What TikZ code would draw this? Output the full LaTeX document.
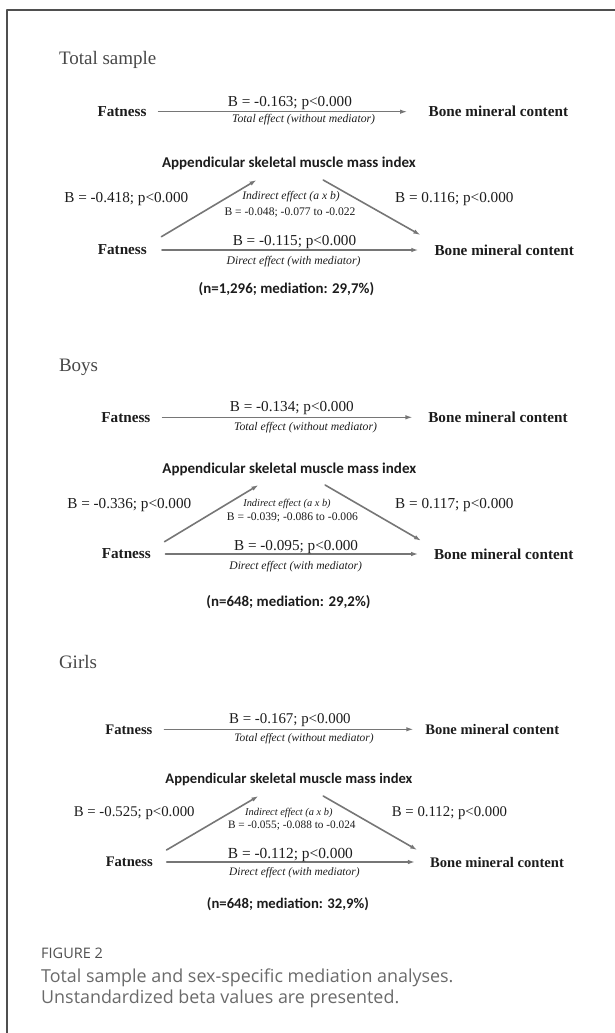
\documentclass[tikz,border=0pt]{standalone}
\usepackage{fontspec}
\setmainfont{Liberation Serif}
\newfontfamily\medfont{Carlito}
\newfontfamily\capfont{Open Sans}
\usetikzlibrary{arrows.meta}
\definecolor{fig-ink}{HTML}{1C1C1C}
\definecolor{fig-title}{HTML}{474747}
\definecolor{fig-line}{HTML}{767676}
\definecolor{fig-frame}{HTML}{4F4F4F}
\definecolor{fig-cap}{HTML}{6A6A6A}
\newcommand\fsz[1]{\fontsize{#1}{#1}\selectfont}

\begin{document}
\begin{tikzpicture}[x=1pt, y=-1pt, line cap=round, line join=round,
    secttitle/.style={anchor=base west, inner sep=0pt, text=fig-title, font=\fsz{19}},
    var/.style={inner sep=0pt, text=fig-ink, font=\bfseries\fsz{#1}}, var/.default=15.2,
    coef/.style={anchor=base, inner sep=0pt, text=fig-ink, font=\fsz{#1}}, coef/.default=15.2,
    note/.style={anchor=base, inner sep=0pt, text=fig-ink, font=\itshape\fsz{#1}}, note/.default=11.7,
    med/.style={anchor=base, inner sep=0pt, text=fig-ink, font=\medfont\bfseries\fsz{#1}}, med/.default=15,
    eff/.style={draw=fig-line, line width=1.2pt, -{Latex[length=7pt,width=4.5pt]}},
    effb/.style={eff, line width=1.6pt}]
  \useasboundingbox (0,0) rectangle (614,1033);
  % ramme
  \draw[fig-frame, line width=1.6pt, line cap=butt] (7,1040) -- (7,10) -- (620,10);

  % total sample
  \node[secttitle] (ttitle) at (58.8,65) {Total sample};
  \node[var] (tfat1) at (122,111.7) {Fatness};
  \node[var] (tbmc1) at (498.4,111.7) {Bone mineral content};
  \draw[eff, shorten <=11.7pt, shorten >=21.5pt] (tfat1.east) -- (tbmc1.west);
  \node[coef] (tb1) at (289.9,106) {B = -0.163; p<0.000};
  \node[note] (tnote1) at (303.6,122) {Total effect (without mediator)};
  \node[med] (tmed) at (288.9,167) {Appendicular skeletal muscle mass index};
  \node[coef] (tla) at (126.3,202) {B = -0.418; p<0.000};
  \node[note=11.6] (tind1) at (291,199) {Indirect effect (a x b)};
  \node[coef=11.6] (tind2) at (290,215) {B = -0.048; -0.077 to -0.022};
  \node[coef] (trb) at (454.3,202) {B = 0.116; p<0.000};
  \node[var] (tfat2) at (122.3,250) {Fatness};
  \node[var] (tbmc2) at (504.2,250) {Bone mineral content};
  \coordinate (ta0) at (161.4,236.7); \coordinate (ta1) at (256.6,180);
  \coordinate (tb0) at (323.2,180); \coordinate (tb1) at (420.4,235);
  \draw[effb] (ta0) -- (ta1);
  \draw[effb] (tb0) -- (tb1);
  \draw[effb, shorten <=15pt, shorten >=16pt] (tfat2.east) -- (tbmc2.west);
  \node[coef] (tdb) at (294.5,245) {B = -0.115; p<0.000};
  \node[note] (tdnote) at (293.6,264) {Direct effect (with mediator)};
  \node[med=14.9] (tn) at (286.4,293) {(n=1,296; mediation: 29,7\%)};

  % boys
  \node[secttitle] (btitle) at (58.8,371) {Boys};
  \node[var] (bfat1) at (125.9,417.3) {Fatness};
  \node[var] (bbmc1) at (498,417.3) {Bone mineral content};
  \draw[eff, shorten <=11.8pt, shorten >=15.7pt] (bfat1.east) -- (bbmc1.west);
  \node[coef] (bb1) at (291.8,411.5) {B = -0.134; p<0.000};
  \node[note] (bnote1) at (305.5,430.5) {Total effect (without mediator)};
  \node[med] (bmed) at (289.3,473) {Appendicular skeletal muscle mass index};
  \node[coef] (bla) at (129.3,508) {B = -0.336; p<0.000};
  \node[note=10.4] (bind1) at (287,506.5) {Indirect effect (a x b)};
  \node[coef=11.6] (bind2) at (292.4,520) {B = -0.039; -0.086 to -0.006};
  \node[coef] (brb) at (454.4,508) {B = 0.117; p<0.000};
  \node[var] (bfat2) at (126.3,554) {Fatness};
  \node[var] (bbmc2) at (503.7,554) {Bone mineral content};
  \coordinate (ba0) at (164.5,541.7); \coordinate (ba1) at (258.5,485);
  \coordinate (bb0) at (325.1,485); \coordinate (bb1x) at (421.1,540.7);
  \draw[effb] (ba0) -- (ba1);
  \draw[effb] (bb0) -- (bb1x);
  \draw[effb, shorten <=14.5pt, shorten >=15.7pt] (bfat2.east) -- (bbmc2.west);
  \node[coef] (bdb) at (296.1,550.5) {B = -0.095; p<0.000};
  \node[note=11.6] (bdnote) at (295.7,569) {Direct effect (with mediator)};
  \node[med=14.9] (bn) at (288.5,606.5) {(n=648; mediation: 29,2\%)};

  % girls
  \node[secttitle] (gtitle) at (58.8,668) {Girls};
  \node[var=14.6] (gfat1) at (128.9,729.3) {Fatness};
  \node[var=14.6] (gbmc1) at (492.2,729.3) {Bone mineral content};
  \draw[eff, shorten <=11.7pt, shorten >=11.8pt] (gfat1.east) -- (gbmc1.west);
  \node[coef=14.9] (gb1) at (289.9,723.3) {B = -0.167; p<0.000};
  \node[note=11.4] (gnote1) at (304,741.5) {Total effect (without mediator)};
  \node[med=14.6] (gmed) at (288.9,783) {Appendicular skeletal muscle mass index};
  \node[coef=14.8] (gla) at (134.2,816) {B = -0.525; p<0.000};
  \node[note=10.4] (gind1) at (288.9,815) {Indirect effect (a x b)};
  \node[coef=11.3] (gind2) at (291.8,828) {B = -0.055; -0.088 to -0.024};
  \node[coef=14.8] (grb) at (449.5,816) {B = 0.112; p<0.000};
  \node[var=14.6] (gfat2) at (129.3,862) {Fatness};
  \node[var=14.6] (gbmc2) at (497,862) {Bone mineral content};
  \coordinate (ga0) at (166.5,850); \coordinate (ga1) at (258.5,796);
  \coordinate (gb0) at (323.2,796); \coordinate (gb1x) at (417.2,850);
  \draw[effb] (ga0) -- (ga1);
  \draw[effb] (gb0) -- (gb1x);
  \draw[effb, shorten <=13.7pt, shorten >=14.9pt] (gfat2.east) -- (gbmc2.west);
  \node[coef=15.4] (gdb) at (290.4,858) {B = -0.112; p<0.000};
  \node[note=11.4] (gdnote) at (294.4,875) {Direct effect (with mediator)};
  \node[med=14.7] (gn) at (287.9,908) {(n=648; mediation: 32,9\%)};

  % figurtekst
  \node[anchor=base west, inner sep=0pt, text=fig-frame, font=\capfont\fsz{14.5}] (figno) at (41,958) {FIGURE 2};
  \node[anchor=base west, inner sep=0pt, text=fig-cap, font=\capfont\fsz{17.9}] (cap1) at (41,982) {Total sample and sex-specific mediation analyses.};
  \node[anchor=base west, inner sep=0pt, text=fig-cap, font=\capfont\fsz{17.9}] (cap2) at (41,1003) {Unstandardized beta values are presented.};
\end{tikzpicture}
\end{document}
